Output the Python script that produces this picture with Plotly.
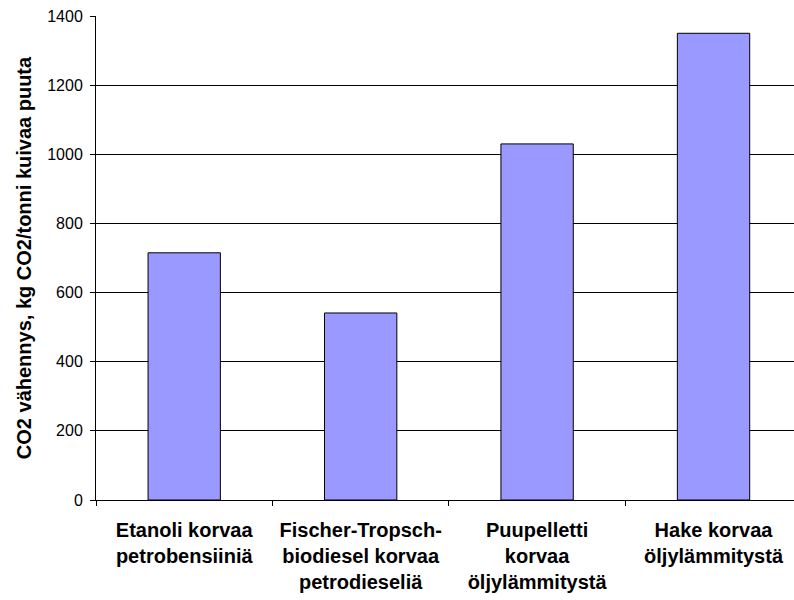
import plotly.graph_objects as go

categories = [
    "Etanoli korvaa<br>petrobensiiniä",
    "Fischer-Tropsch-<br>biodiesel korvaa<br>petrodieseliä",
    "Puupelletti<br>korvaa<br>öljylämmitystä",
    "Hake korvaa<br>öljylämmitystä",
]
values = [715, 541, 1030, 1350]
y_ticks = [0, 200, 400, 600, 800, 1000, 1200, 1400]
y_title = "CO2 vähennys, kg CO2/tonni kuivaa puuta"

fig = go.Figure(
    go.Bar(
        x=categories,
        y=values,
        marker=dict(color="#9999FF", line=dict(color="#000000", width=1)),
        width=0.41,
    )
)

fig.update_layout(
    width=794,
    height=600,
    margin=dict(l=96, r=0, t=16, b=100),
    plot_bgcolor="white",
    paper_bgcolor="white",
    showlegend=False,
    font=dict(family="Liberation Sans, Arial, sans-serif", color="black"),
)

fig.update_xaxes(
    type="category",
    range=[-0.5, 3.456],
    showline=True,
    linecolor="black",
    linewidth=1,
    showgrid=False,
    ticks="outside",
    tickson="boundaries",
    ticklen=5,
    tickcolor="black",
    ticklabelstandoff=12,
    tickfont=dict(size=20, family="Liberation Sans, Arial, sans-serif"),
)
fig.update_xaxes(
    tickvals=categories,
    ticktext=["<b>" + c.replace("<br>", "</b><br><b>") + "</b>" for c in categories],
)

fig.update_yaxes(
    range=[0, 1400],
    tickvals=y_ticks,
    showline=True,
    linecolor="black",
    linewidth=1,
    showgrid=True,
    gridcolor="black",
    gridwidth=1,
    ticks="outside",
    ticklen=5,
    tickcolor="black",
    tickfont=dict(size=16),
    ticklabelstandoff=4,
    zeroline=False,
    title=dict(text="<b>" + y_title + "</b>", font=dict(size=20), standoff=10),
)

fig.write_html("out.html")
